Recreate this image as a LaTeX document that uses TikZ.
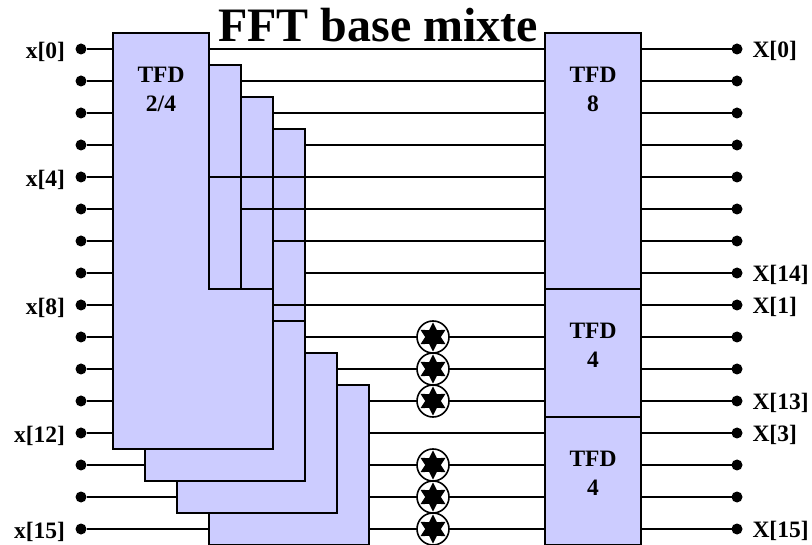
\documentclass[tikz,border=0pt]{standalone}
\usepackage{fontspec}
\setmainfont{Liberation Serif}
\usetikzlibrary{positioning,shapes.geometric}
\definecolor{tfdfill}{HTML}{CCCCFF}

\begin{document}
\begin{tikzpicture}[x=1pt,y=-1pt,line width=1.6pt,
  every node/.style={font=\bfseries\fontsize{23.5}{29}\selectfont,inner sep=0pt,outer sep=0pt},
  blk/.style={draw,fill=tfdfill,anchor=north west},
  lbl/.style={align=center},
  pin/.style={circle,fill=black,minimum size=11pt},
  tw/.style={circle,draw,fill=white,minimum size=32pt,path picture={
    \node[star,star points=6,star point ratio=1.85,fill=black,minimum size=29pt]
      at (path picture bounding box.center) {};}}]
  \clip (0,0) rectangle (812,545);
  \path[use as bounding box] (0,0) rectangle (812,545);
  % stacked blocks, back to front
  \node[blk,minimum width=160pt,minimum height=160pt] (sub3) at (209,385) {};
  \node[blk,minimum width=160pt,minimum height=160pt] (sub2) at (177,353) {};
  \node[blk,minimum width=160pt,minimum height=160pt] (sub1) at (145,321) {};
  \node[blk,minimum width=32pt,minimum height=192pt] (up3) at (273,129) {};
  \node[blk,minimum width=32pt,minimum height=192pt] (up2) at (241,97) {};
  \node[blk,minimum width=32pt,minimum height=224pt] (up1) at (209,65) {};
  \coordinate (mainl) at (113,33); \coordinate (mainr) at (209,33);
  \draw[fill=tfdfill] (mainl) -- (mainr) -- (209,289) -- (273,289) -- (273,449) -- (113,449) -- cycle;
  \node[lbl] (lab) at (161,89.5) {TFD\\2/4};
  \node[font=\bfseries\fontsize{48}{48}\selectfont,anchor=base] (title) at (378,42) {FFT base mixte};
  % pins
  \foreach \i in {0,...,15} {
    \node[pin] (in\i) at (81,49+32*\i) {};
    \node[pin] (out\i) at (737,49+32*\i) {};
  }
  \foreach \i/\s in {0/0,4/4,8/8,12/12,15/15}
    \node[left=10.5pt of in\i,yshift=-2.5pt] (xl\i) {x[\s]};
  \foreach \i/\s in {0/0,7/14,8/1,11/13,12/3,15/15}
    \node[right=10pt of out\i,yshift=-2pt] (xr\i) {X[\s]};
  % wires
  \foreach \i in {0,...,12} \draw (in\i) -- (mainl |- in\i);
  \draw (in13) -- (sub1.west |- in13);
  \draw (in14) -- (sub2.west |- in14);
  \draw (in15) -- (sub3.west |- in15);
  \foreach \i/\s in {0/mainr,1/up1.east,2/up2.east,3/up3.east,4/mainr,5/up1.east,6/up2.east,7/up3.east,
    8/up2.east,9/up3.east,10/sub2.east,11/sub3.east,12/sub3.east,13/sub3.east,14/sub3.east,15/sub3.east}
    \draw (\s |- out\i) -- (out\i);
  % right hand blocks
  \node[blk,minimum width=96pt,minimum height=256pt] (tfd8) at (545,33) {};
  \node[blk,minimum width=96pt,minimum height=128pt] (tfd4a) at (545,289) {};
  \node[blk,minimum width=96pt,minimum height=128pt] (tfd4b) at (545,417) {};
  \node[lbl] (lab8) at (593,89.5) {TFD\\8};
  \node[lbl] (lab4a) at (593,345) {TFD\\4};
  \node[lbl] (lab4b) at (593,473) {TFD\\4};
  % twiddles
  \foreach \i in {9,10,11,13,14,15}
    \node[tw] (w\i) at (433,49+32*\i) {};
\end{tikzpicture}
\end{document}
